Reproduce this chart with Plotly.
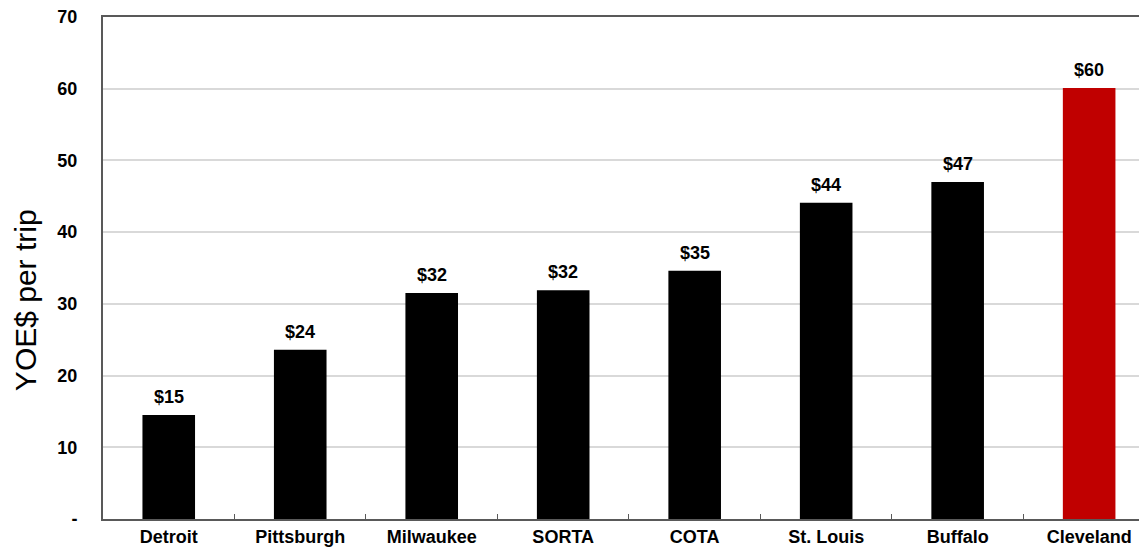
import plotly.graph_objects as go

categories = ["Detroit", "Pittsburgh", "Milwaukee", "SORTA", "COTA", "St. Louis", "Buffalo", "Cleveland"]
values = [14.5, 23.6, 31.5, 31.9, 34.6, 44.1, 47.0, 60.1]
labels = ["$15", "$24", "$32", "$32", "$35", "$44", "$47", "$60"]
colors = ["#000000"] * 7 + ["#C00000"]
y_ticks = [0, 10, 20, 30, 40, 50, 60, 70]
y_ticktext = ["-", "10", "20", "30", "40", "50", "60", "70"]
y_title = "YOE$ per trip"

FONT = "Arial, Liberation Sans, sans-serif"

fig = go.Figure(go.Bar(
    x=categories, y=values, width=0.4,
    marker=dict(color=colors, line=dict(width=0)),
))

for c, v, t in zip(categories, values, labels):
    fig.add_annotation(
        x=c, y=v, text=t, showarrow=False, yanchor="bottom", yshift=6,
        font=dict(family=FONT, size=18, color="#000000", weight="bold"),
    )

fig.add_annotation(
    xref="paper", yref="paper", x=0, y=0.436, xanchor="center", yanchor="middle",
    xshift=-78, textangle=-90, showarrow=False, text=y_title,
    font=dict(family=FONT, size=30, color="#000000"),
)

# page body has an 8px default margin, so the figure is sized to fit the window
fig.update_layout(
    width=1139, height=544,
    margin=dict(l=95, r=0, t=9, b=33, autoexpand=False),
    plot_bgcolor="white", paper_bgcolor="white",
    showlegend=False,
    font=dict(family=FONT, color="#000000"),
)
fig.update_xaxes(
    range=[-0.5, 7.44], automargin=False,
    showline=True, linecolor="#595959", linewidth=2, mirror=True,
    ticks="inside", tickson="boundaries", ticklen=5, tickcolor="#595959", tickwidth=1,
    showgrid=False,
    tickfont=dict(family=FONT, size=18, color="#000000", weight="bold"),
)
fig.update_yaxes(
    range=[0, 70], automargin=False,
    tickvals=y_ticks, ticktext=y_ticktext,
    showline=True, linecolor="#595959", linewidth=2,
    showgrid=True, gridcolor="#d9d9d9", gridwidth=2,
    zeroline=False,
    ticks="", ticklabelstandoff=20, ticklabeloverflow="allow",
    tickfont=dict(family=FONT, size=18, color="#000000", weight="bold"),
)

fig.write_html("out.html")
